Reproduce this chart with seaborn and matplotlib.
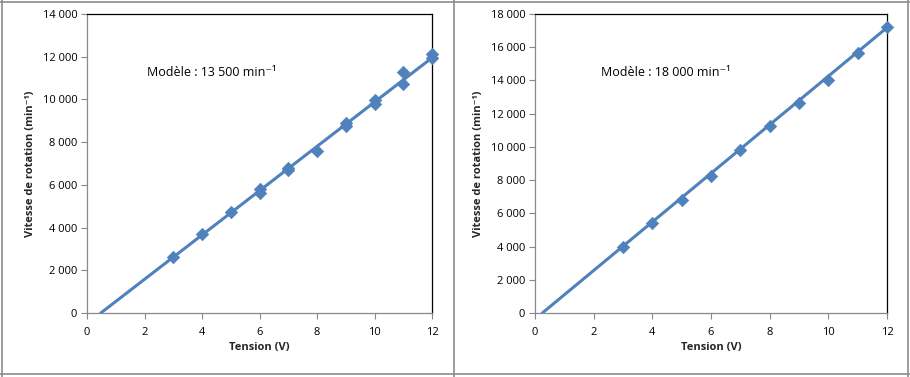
import numpy as np
import pandas as pd
import seaborn as sns
import matplotlib.pyplot as plt
from matplotlib.lines import Line2D
from matplotlib.ticker import FuncFormatter, MultipleLocator

# Left motor: measured points (Tension V, speed min-1)
left_tension = [3, 4, 5, 6, 6, 7, 7, 8, 9, 9, 10, 10, 11, 11, 12, 12]
left_speed = [2600, 3700, 4730, 5800, 5620, 6790, 6700, 7570, 8900, 8750,
              9980, 9800, 11280, 10730, 12120, 11950]
left_model_x = [0.48, 12]
left_model_y = [0, 11950]
left_label = "Modèle : 13 500 min⁻¹"

# Right motor
right_tension = [3, 4, 5, 6, 7, 8, 9, 10, 11, 12]
right_speed = [3980, 5420, 6820, 8230, 9790, 11230, 12640, 14010, 15650, 17230]
right_model_x = [0.25, 12]
right_model_y = [0, 17180]
right_label = "Modèle : 18 000 min⁻¹"

sns.set_style("white")
plt.rcParams['font.family'] = ['Open Sans', 'DejaVu Sans']

blue = '#4F81BD'
fig = plt.figure(figsize=(9.1, 3.77), dpi=100)

def fmt(v, pos):
    return f"{int(v):,}".replace(",", " ")

def draw(ax, tx, sp, mx, my, ymax, ystep, label, lx, ly):
    pts = pd.DataFrame({'Tension': tx, 'Vitesse': sp})
    mod = pd.DataFrame({'Tension': mx, 'Vitesse': my})
    sns.lineplot(data=mod, x='Tension', y='Vitesse', ax=ax, color=blue, lw=2.2, zorder=2)
    sns.scatterplot(data=pts, x='Tension', y='Vitesse', ax=ax, color=blue, marker='D',
                    s=40, edgecolor=blue, linewidth=0.5, zorder=3, clip_on=False)
    ax.set_xlim(0, 12)
    ax.set_ylim(0, ymax)
    ax.xaxis.set_major_locator(MultipleLocator(2))
    ax.yaxis.set_major_locator(MultipleLocator(ystep))
    ax.yaxis.set_major_formatter(FuncFormatter(fmt))
    ax.tick_params(axis='both', labelsize=8, colors='#888888', labelcolor='black',
                   length=4, width=0.8, direction='out', left=True, bottom=True, pad=3)
    ax.tick_params(axis='x', pad=6)
    for s in ['left', 'bottom']:
        ax.spines[s].set_color('#888888')
        ax.spines[s].set_linewidth(0.9)
    for s in ['top', 'right']:
        ax.spines[s].set_color('black')
        ax.spines[s].set_linewidth(0.9)
    ax.set_xlabel('Tension (V)', fontsize=8, fontweight='bold', labelpad=3)
    ax.set_ylabel('Vitesse de rotation (min⁻¹)', fontsize=8, fontweight='bold', labelpad=5)
    ax.text(lx, ly, label, fontsize=9, color='black', va='center')

ax1 = fig.add_axes([87 / 910, 64 / 377, 345 / 910, 299 / 377])
draw(ax1, left_tension, left_speed, left_model_x, left_model_y, 14000, 2000,
     left_label, 2.1, 11250)

ax2 = fig.add_axes([535 / 910, 64 / 377, 352 / 910, 299 / 377])
draw(ax2, right_tension, right_speed, right_model_x, right_model_y, 18000, 2000,
     right_label, 2.25, 14450)

# panel frames
gray = '#8c8c8c'
for xs, ys in [([1.5 / 910, 1.5 / 910], [0, 1]), ([907.5 / 910, 907.5 / 910], [0, 1]),
               ([0, 1], [1 - 1.5 / 377] * 2), ([0, 1], [3 / 377] * 2),
               ([453.5 / 910, 453.5 / 910], [0, 1])]:
    fig.add_artist(Line2D(xs, ys, color=gray, lw=1.2))

fig.savefig('out.png', dpi=100)
